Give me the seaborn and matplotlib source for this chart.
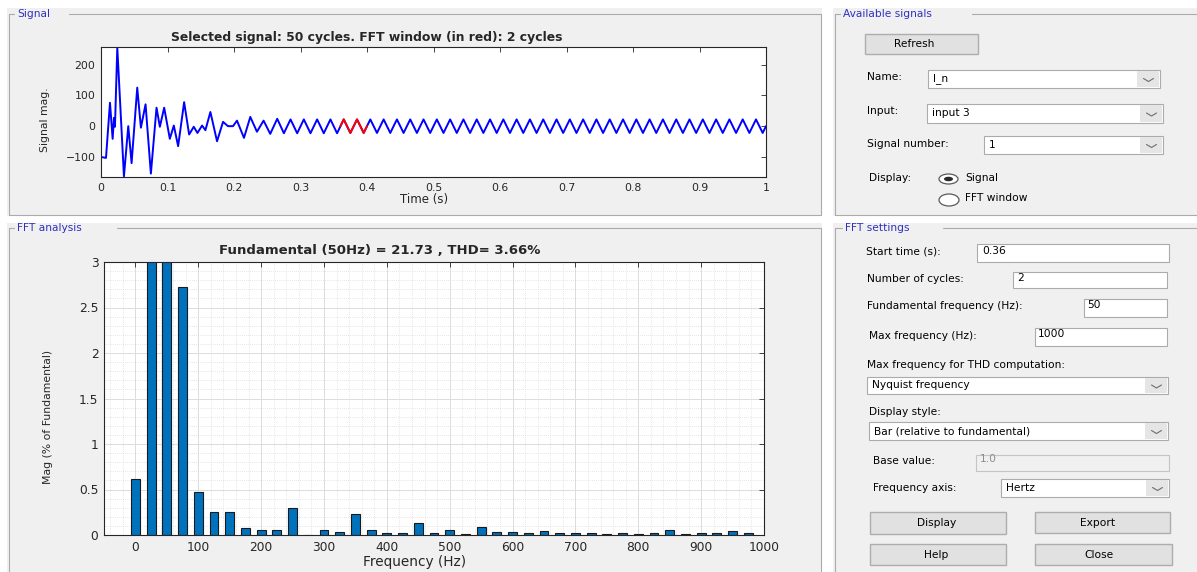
import numpy as np
import pandas as pd
import matplotlib
matplotlib.use("Agg")
import matplotlib.pyplot as plt
from matplotlib.patches import Rectangle, Ellipse
from matplotlib.ticker import MultipleLocator, FormatStrFormatter
import seaborn as sns

W, H = 1197, 572

# ---- Signal trace: turning points (s, magnitude) ----
trace_t = [0.000, 0.0075, 0.0135, 0.0175, 0.0195, 0.021, 0.0245, 0.0345, 0.041, 0.046,
           0.0545, 0.060, 0.067, 0.075, 0.0835, 0.0885, 0.095, 0.1035, 0.1095, 0.116,
           0.125, 0.1325, 0.1395, 0.145, 0.152, 0.157, 0.1645, 0.1745, 0.1835, 0.191,
           0.1985, 0.2045, 0.215, 0.2245, 0.2345, 0.2445, 0.2545,
           0.265, 0.275, 0.285, 0.295, 0.305, 0.315, 0.325, 0.335, 0.345, 0.355,
           0.365, 0.375, 0.385, 0.395, 0.405, 0.415, 0.425, 0.435, 0.445, 0.455,
           0.465, 0.475, 0.485, 0.495, 0.505, 0.515, 0.525, 0.535, 0.545, 0.555,
           0.565, 0.575, 0.585, 0.595, 0.605, 0.615, 0.625, 0.635, 0.645, 0.655,
           0.665, 0.675, 0.685, 0.695, 0.705, 0.715, 0.725, 0.735, 0.745, 0.755,
           0.765, 0.775, 0.785, 0.795, 0.805, 0.815, 0.825, 0.835, 0.845, 0.855,
           0.865, 0.875, 0.885, 0.895, 0.905, 0.915, 0.925, 0.935, 0.945, 0.955,
           0.965, 0.975, 0.985, 0.995, 1.000]
trace_v = [-100, -103, 76, -41, 27, -2, 255, -163, 0, -120,
           125, -5, 71, -154, 60, -2, 60, -41, 2, -65,
           78, -27, -2, -22, 2, -13, 46, -49, 14, 0,
           0, 18, -38, 30, -18, 18, -25,
           24, -23, 22, -23, 22, -23, 22, -23, 22, -23,
           22, -22, 22, -22, 22, -22, 22, -22, 22, -22,
           22, -22, 22, -22, 22, -22, 22, -22, 22, -22,
           22, -22, 22, -22, 22, -22, 22, -22, 22, -22,
           22, -22, 22, -22, 22, -22, 22, -22, 22, -22,
           22, -22, 22, -22, 22, -22, 22, -22, 22, -22,
           22, -22, 22, -22, 22, -22, 22, -22, 22, -22,
           22, -22, 22, -22, 0]

# FFT window (drawn in red): 2 cycles from 0.36 s
win_t = [0.36, 0.365, 0.375, 0.385, 0.395, 0.40]
win_v = [0, 22, -22, 22, -22, 0]

# ---- FFT bars, % of fundamental (25 Hz resolution) ----
fft_freq = [0, 25, 50, 75, 100, 125, 150, 175, 200, 225,
            250, 275, 300, 325, 350, 375, 400, 425, 450, 475,
            500, 525, 550, 575, 600, 625, 650, 675, 700, 725,
            750, 775, 800, 825, 850, 875, 900, 925, 950, 975]
fft_mag = [0.62, 3.2, 100.0, 2.73, 0.47, 0.25, 0.25, 0.08, 0.05, 0.05,
           0.30, 0.005, 0.05, 0.03, 0.23, 0.055, 0.02, 0.02, 0.13, 0.025,
           0.05, 0.015, 0.085, 0.037, 0.032, 0.025, 0.048, 0.02, 0.02, 0.027,
           0.007, 0.022, 0.008, 0.02, 0.05, 0.015, 0.02, 0.027, 0.04, 0.018]

sns.set_theme(style="white")
plt.rcParams['font.family'] = ['DejaVu Sans']
NARROW = ['Liberation Sans Narrow', 'DejaVu Sans']
UI_FS = 7.7

fig = plt.figure(figsize=(W / 100, H / 100), dpi=100)
fig.patch.set_facecolor('white')

# background canvas in pixel coords (y down) for the GUI panels
bg = fig.add_axes([0, 0, 1, 1], zorder=-1)
bg.set_xlim(0, W)
bg.set_ylim(H, 0)
bg.set_autoscale_on(False)
bg.axis('off')


def px_rect(x0, y0, x1, y1):
    return [x0 / W, 1 - y1 / H, (x1 - x0) / W, (y1 - y0) / H]


def label(x, y, s, **kw):
    opts = dict(fontsize=UI_FS, va='center', ha='left', color='black')
    opts.update(kw)
    bg.text(x, y, s, **opts)


def box(x0, y0, x1, y1, fc='white', ec='#ABABAB', lw=0.8):
    bg.add_patch(Rectangle((x0, y0), x1 - x0, y1 - y0, facecolor=fc, edgecolor=ec, linewidth=lw))


def dropdown(x0, y0, x1, y1, txt):
    box(x0, y0, x1, y1)
    bg.add_patch(Rectangle((x1 - 23, y0 + 1), 22, y1 - y0 - 2, facecolor='#E5E5E5', edgecolor='none'))
    cx, cy = x1 - 11.5, (y0 + y1) / 2 + 1
    bg.plot([cx - 5, cx, cx + 5], [cy - 1.5, cy + 1.5, cy - 1.5], color='#6E6E6E', lw=0.8)
    label(x0 + 5, (y0 + y1) / 2, txt)


def button(x0, y0, x1, y1, txt, tx):
    box(x0, y0, x1, y1, fc='#E1E1E1', ec='#ADADAD', lw=1.0)
    label(tx, (y0 + y1) / 2, txt, ha='center')


def panel(x0, y0, x1, y1, title, tx, gap_end, ty):
    bg.add_patch(Rectangle((x0, y0), x1 - x0, y1 - y0, facecolor='#F0F0F0', edgecolor='none'))
    fx0, fx1, fy1 = x0 + 1.5, x1 - 1.5, y1 - 1.5
    kw = dict(color='#ABABAB', lw=0.8)
    bg.plot([fx0, tx - 3], [ty, ty], **kw)
    bg.plot([gap_end, fx1], [ty, ty], **kw)
    bg.plot([fx0, fx0], [ty, fy1], **kw)
    bg.plot([fx1, fx1], [ty, fy1], **kw)
    bg.plot([fx0, fx1], [fy1, fy1], **kw)
    label(tx, ty, title, color='#2F2FC0')


panel(7, 8, 822, 216, 'Signal', 17, 69, 14)
panel(833, 8, 1200, 216, 'Available signals', 843, 972, 14)
panel(7, 223, 822, 580, 'FFT analysis', 17, 117, 228)
panel(833, 223, 1200, 580, 'FFT settings', 845, 943, 228)

# Available signals widgets
button(865, 34, 978, 54, 'Refresh', 914)
label(867, 77, 'Name:')
dropdown(928, 70, 1160, 88, 'I_n')
label(867, 111, 'Input:')
dropdown(927, 104, 1163, 123, 'input 3')
label(867, 144, 'Signal number:')
dropdown(984, 136, 1163, 154, '1')
label(869, 178, 'Display:')
bg.add_patch(Ellipse((948.5, 179), 19, 10, facecolor='white', edgecolor='#5A5A5A', lw=0.9))
bg.add_patch(Ellipse((948.5, 179), 9, 4.5, facecolor='#2A2A2A', edgecolor='none'))
label(965, 178, 'Signal')
bg.add_patch(Ellipse((949, 200), 20, 12, facecolor='white', edgecolor='#5A5A5A', lw=0.9))
label(965, 198, 'FFT window')

# FFT settings widgets
label(866, 252, 'Start time (s):')
box(977, 244, 1169, 262)
label(982, 251, '0.36')
label(867, 279, 'Number of cycles:')
box(1013, 272, 1167, 288)
label(1017, 278, '2')
label(867, 306, 'Fundamental frequency (Hz):')
box(1084, 299, 1167, 317)
label(1087, 305, '50')
label(869, 336, 'Max frequency (Hz):')
box(1035, 328, 1167, 346)
label(1038, 334, '1000')
label(867, 365, 'Max frequency for THD computation:')
dropdown(867, 377, 1168, 394, 'Nyquist frequency')
label(869, 412, 'Display style:')
dropdown(869, 422, 1168, 440, 'Bar (relative to fundamental)')
label(873, 461, 'Base value:')
box(976, 455, 1169, 471, fc='#F0F0F0', ec='#C4C4C4')
label(980, 459, '1.0', color='#8C8C8C')
label(873, 488, 'Frequency axis:')
dropdown(1001, 479, 1169, 497, 'Hertz')
button(870, 512, 1006, 534, 'Display', 937)
button(1035, 512, 1170, 533, 'Export', 1098)
button(870, 544, 1006, 565, 'Help', 936)
button(1035, 544, 1172, 565, 'Close', 1099)


def matlab_axes(ax, fs):
    ax.set_facecolor('white')
    for s in ax.spines.values():
        s.set_visible(True)
        s.set_color('#262626')
        s.set_linewidth(0.8)
    ax.tick_params(which='major', direction='in', length=3.5, width=0.6,
                   top=True, right=True, labelsize=fs, colors='#262626', pad=4)


# ---- Signal plot ----
ax1 = fig.add_axes(px_rect(101, 47, 766, 177))
sns.lineplot(x=trace_t, y=trace_v, ax=ax1, color='#0000FF', lw=1.4, estimator=None, sort=False)
sns.lineplot(x=win_t, y=win_v, ax=ax1, color='#FF0000', lw=1.4, estimator=None, sort=False)
matlab_axes(ax1, 7.8)
ax1.set_xlim(0, 1)
ax1.set_ylim(-165, 257)
ax1.xaxis.set_major_locator(MultipleLocator(0.1))
ax1.xaxis.set_major_formatter(FormatStrFormatter('%g'))
ax1.yaxis.set_major_locator(MultipleLocator(100))
ax1.set_title('Selected signal: 50 cycles. FFT window (in red): 2 cycles',
              fontsize=8.9, fontweight='bold', x=0.40, pad=4.0)
ax1.set_xlabel('Time (s)', fontsize=8.5, color='#262626')
ax1.xaxis.set_label_coords(0.486, -0.123)
ax1.set_ylabel('Signal mag.', fontsize=7.8, color='#262626', family=NARROW)
ax1.yaxis.set_label_coords(-0.077, 0.442)

# ---- FFT bar chart ----
ax2 = fig.add_axes(px_rect(104, 262, 764, 535))
fft_df = pd.DataFrame({'freq': fft_freq, 'mag': fft_mag})
sns.barplot(data=fft_df, x='freq', y='mag', native_scale=True, width=0.57,
            color='#0072BD', saturation=1, edgecolor='#1A1A1A', linewidth=0.8,
            errorbar=None, ax=ax2)
matlab_axes(ax2, 8.8)
ax2.set_xlim(-50, 1000)
ax2.set_ylim(0, 3)
ax2.xaxis.set_major_locator(MultipleLocator(100))
ax2.xaxis.set_minor_locator(MultipleLocator(20))
ax2.xaxis.set_major_formatter(FormatStrFormatter('%g'))
ax2.yaxis.set_major_locator(MultipleLocator(0.5))
ax2.yaxis.set_minor_locator(MultipleLocator(0.1))
ax2.yaxis.set_major_formatter(FormatStrFormatter('%g'))
ax2.tick_params(which='minor', length=0)
ax2.set_axisbelow(True)
ax2.grid(which='major', color='#DCDCDC', lw=0.7)
ax2.grid(which='minor', color='#CFCFCF', lw=0.5, ls=(0, (1, 2)))
ax2.set_title('Fundamental (50Hz) = 21.73 , THD= 3.66%',
              fontsize=9.5, fontweight='bold', x=0.418, pad=5.5)
ax2.set_xlabel('Frequency (Hz)', fontsize=9.8, color='#262626')
ax2.xaxis.set_label_coords(0.47, -0.073)
ax2.set_ylabel('Mag (% of Fundamental)', fontsize=7.8, color='#262626', family=NARROW)
ax2.yaxis.set_label_coords(-0.077, 0.432)

fig.savefig('out.png', dpi=100, facecolor='white')
